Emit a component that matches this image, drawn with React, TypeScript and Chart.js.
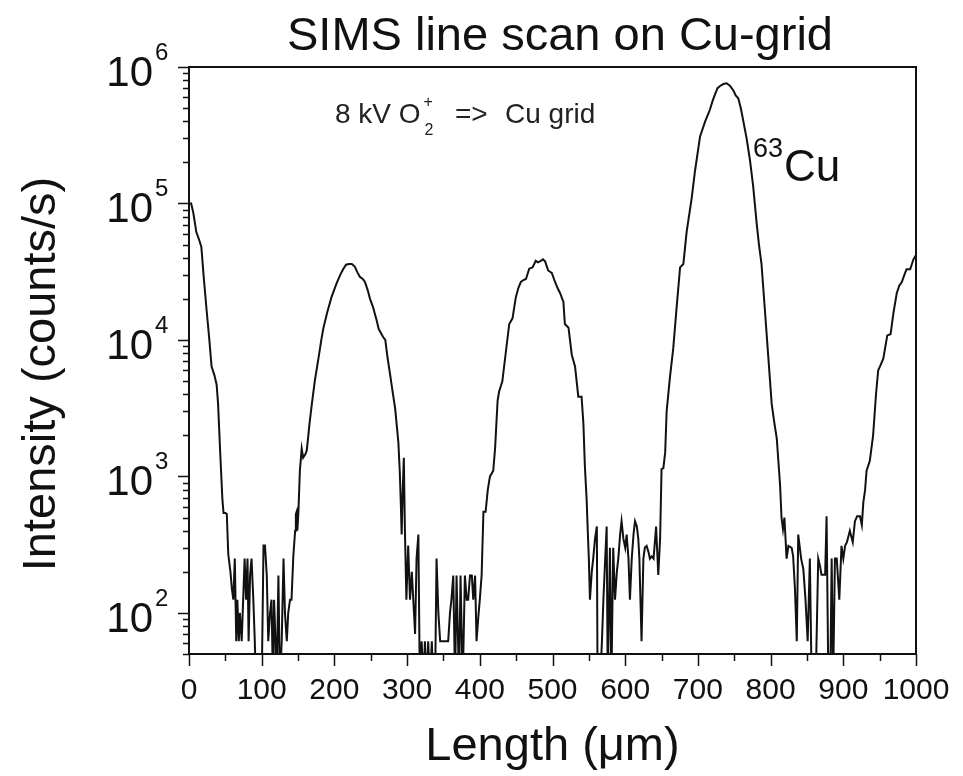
import React, { useEffect, useRef } from 'react';
import { Chart, registerables } from 'chart.js';

Chart.register(...registerables);

// ---- data; 30 = zero counts (below axis) ----
const lengthUm = [
  0, 3, 6, 10, 14, 17, 20, 24, 28, 31, 35, 38, 40, 43, 46, 47.5, 50, 52, 54, 57, 59,
  61, 63, 65, 66.5, 68.5, 70, 72.5, 74.5, 76.5, 78.5, 80.5, 82, 84, 86, 88.5, 90.5, 92, 96, 100,
  102.5, 104.5, 107, 109, 111.5, 113.5, 115.5, 117, 119, 120.5, 123, 125, 127.5, 130, 132, 134.5,
  136.5, 139, 141, 143.5, 146, 147, 148, 149, 150.5, 152.5, 155, 157, 160, 162, 166, 169, 173,
  178, 182, 185, 190, 196, 203, 208, 212, 216, 220, 224, 228, 232, 235, 239, 242, 246, 249, 253,
  258, 261, 263, 267, 270, 273, 276.5, 280, 283.5, 286, 288, 290, 291.5, 292.5, 294, 295.5, 297,
  299, 301.5, 304, 306.5, 308.5, 311, 313, 315.5, 317.5, 320, 322.5, 324.5, 327, 329, 331.5, 334,
  336, 338.5, 340.5, 343, 345.5, 348, 350, 354.5, 356.5, 359, 361, 363.5, 366, 368, 371.5, 373.5,
  376.5, 379.5, 382, 384, 386.5, 389, 391, 393.5, 395.5, 398, 400, 402.5, 405, 408, 411, 414,
  418.5, 421, 424.5, 426.5, 431, 436, 440.5, 445, 449.5, 453, 456.5, 460, 463.5, 468, 472.5, 477,
  480, 484, 487, 490, 494, 499, 503.5, 507, 510.5, 515, 517, 522, 526.5, 531, 535.5, 540, 542.5,
  544.5, 547, 548.5, 550, 551.5, 554, 556, 558.5, 561, 562, 565.5, 568, 570, 572.5, 574.5, 576,
  579, 581, 583.5, 586, 588.5, 590.5, 593, 595, 597.5, 600, 602, 604.5, 606.5, 609, 611.5, 613.5,
  616, 618, 619.5, 621, 622.5, 625, 627, 629.5, 632, 634, 636.5, 639, 642.5, 645.5, 648, 650,
  652.5, 655, 657, 661.5, 666, 671, 675.5, 680, 684.5, 691.5, 696, 703, 710, 716.5, 720, 723.5,
  727, 730.5, 735, 739.5, 744, 749, 752, 755.5, 759, 762.5, 767, 771.5, 776, 781, 784, 787.5, 792,
  797, 801.5, 805, 808.5, 813, 815, 817, 819, 822, 824.5, 829, 831, 833.5, 836, 838, 842, 845,
  848, 851, 854, 856.5, 859, 862, 865.5, 868, 870, 875, 877, 879.5, 882, 884, 886, 888.5, 891,
  894.5, 897.5, 900, 902.5, 905, 909, 913, 916, 919, 923, 925.5, 927.5, 930, 932, 936.5, 941, 945,
  948, 950.5, 955, 960.5, 965, 969, 973.5, 977, 980.5, 984, 987, 992, 996.5, 1000,
];

const cu63Intensity = [
  100000, 100000, 85000, 62000, 54000, 48000, 30000, 17000, 10000, 6400, 5500, 4700, 3400, 1460, 670, 540, 540, 530, 270, 200, 150,
  125, 250, 62, 125, 62, 100, 62, 125, 250, 125, 250, 62, 188, 250, 125, 62, 30, 30, 30,
  312, 312, 188, 62, 100, 125, 30, 125, 62, 30, 188, 30, 62, 250, 100, 62,
  100, 125, 125, 260, 400, 530, 550, 400, 550, 1100, 1600, 1370, 1450, 1550, 2500, 3400, 5000,
  7300, 10000, 12300, 15800, 20600, 26000, 30000, 33000, 35600, 36000, 36000, 34500, 31000, 29000, 28000, 26600, 23000, 20000, 17500,
  14000, 12000, 11500, 10500, 10000, 7500, 5650, 4200, 3170, 2300, 1770, 1060, 600, 375, 800, 1370, 400,
  125, 312, 125, 200, 125, 70, 250, 375, 30, 62, 30, 62, 30, 62, 30, 62,
  30, 30, 250, 100, 62, 62, 62, 62, 62, 100, 125, 188, 30, 188, 30, 188,
  30, 188, 125, 125, 188, 188, 125, 188, 62, 94, 125, 188, 550, 550, 800, 1000,
  1100, 1600, 3600, 4170, 4970, 8300, 13100, 14400, 20500, 24000, 26600, 27500, 28000, 33300, 34000, 38000,
  37000, 38000, 39000, 37500, 32300, 31000, 26600, 24000, 22000, 19000, 13100, 12300, 7800, 6400, 3840, 3840, 2440,
  1200, 670, 400, 250, 125, 200, 250, 350, 430, 30, 30, 62, 125, 250, 430, 30,
  300, 30, 300, 125, 200, 250, 375, 470, 350, 300, 375, 250, 125, 250, 380, 470,
  430, 350, 250, 125, 62, 250, 300, 310, 280, 250, 260, 250, 430, 190, 350, 1130,
  1150, 1500, 3000, 5300, 8600, 18000, 34000, 36000, 62000, 110000, 173000, 310000, 400000, 486000, 560000, 630000,
  700000, 726000, 750000, 760000, 730000, 670000, 620000, 590000, 500000, 400000, 300000, 210000, 134000, 70000, 50000, 36000, 17000,
  7300, 3400, 2500, 1890, 870, 500, 410, 500, 250, 310, 300, 260, 150, 62, 375, 250, 210,
  125, 62, 250, 30, 30, 30, 250, 220, 190, 190, 510, 30, 30, 250, 30, 250, 250,
  125, 310, 250, 310, 330, 400, 330, 470, 510, 510, 440, 640, 800, 1100, 1300, 2000, 4000,
  6000, 6400, 7300, 10800, 11000, 15800, 22000, 25000, 26600, 30000, 33000, 33000, 39000, 42000,
];

const xTickValues = [0, 100, 200, 300, 400, 500, 600, 700, 800, 900, 1000];
const xMinorTickValues = [50, 150, 250, 350, 450, 550, 650, 750, 850, 950];
const yDecadeExponents = [2, 3, 4, 5, 6];

const chartTitle = 'SIMS line scan on Cu-grid';
const xAxisTitle = 'Length (\u03bcm)';
const yAxisTitle = 'Intensity (counts/s)';

const FONT = "'Liberation Sans', Arial, Helvetica, sans-serif";
const INK = '#111';

const decorPlugin = {
  id: 'decor',
  afterDraw(chart: any) {
    const { ctx, chartArea: a, scales } = chart;
    const xs = scales.x;
    const ys = scales.y;
    ctx.save();

    // frame (top and right)
    ctx.strokeStyle = INK;
    ctx.lineWidth = 2;
    ctx.beginPath();
    ctx.moveTo(a.left, a.top);
    ctx.lineTo(a.right, a.top);
    ctx.lineTo(a.right, a.bottom);
    ctx.stroke();

    // y ticks (major at decades, minor 2..9)
    ctx.lineWidth = 1.5;
    ctx.beginPath();
    const yMin = ys.min;
    const yMax = ys.max;
    for (let e = 1; e <= 6; e++) {
      for (let m = 1; m <= 9; m++) {
        const v = m * Math.pow(10, e);
        if (v < yMin || v > yMax) continue;
        const py = Math.round(ys.getPixelForValue(v)) + 0.5;
        const len = m === 1 ? 11 : 6;
        ctx.moveTo(a.left - len, py);
        ctx.lineTo(a.left, py);
      }
    }
    ctx.stroke();

    // x ticks
    ctx.beginPath();
    for (const v of xTickValues) {
      const px = Math.round(xs.getPixelForValue(v)) + 0.5;
      ctx.moveTo(px, a.bottom);
      ctx.lineTo(px, a.bottom + 12);
    }
    for (const v of xMinorTickValues) {
      const px = Math.round(xs.getPixelForValue(v)) + 0.5;
      ctx.moveTo(px, a.bottom);
      ctx.lineTo(px, a.bottom + 7);
    }
    ctx.stroke();

    // y tick labels 10^n
    ctx.fillStyle = INK;
    ctx.textBaseline = 'alphabetic';
    for (const e of yDecadeExponents) {
      const py = ys.getPixelForValue(Math.pow(10, e));
      ctx.font = `42px ${FONT}`;
      ctx.textAlign = 'right';
      ctx.fillText('10', a.left - 36, py + 19);
      ctx.font = `24px ${FONT}`;
      ctx.textAlign = 'left';
      ctx.fillText(String(e), a.left - 34, py - 7);
    }

    // title
    ctx.textAlign = 'center';
    ctx.font = `47px ${FONT}`;
    ctx.fillText(chartTitle, 560, 50);

    // x axis title
    ctx.font = `47px ${FONT}`;
    ctx.fillText(xAxisTitle, (a.left + a.right) / 2, 760);

    // y axis title
    ctx.save();
    ctx.translate(42, 374);
    ctx.rotate(-Math.PI / 2);
    ctx.textBaseline = 'middle';
    ctx.font = `47px ${FONT}`;
    ctx.fillText(yAxisTitle, 0, 0);
    ctx.restore();

    // annotation: 8 kV O2+ => Cu grid
    ctx.fillStyle = '#222';
    ctx.textAlign = 'left';
    ctx.font = `28px ${FONT}`;
    const lead = '8 kV O';
    ctx.fillText(lead, 335, 123);
    const leadEnd = 335 + ctx.measureText(lead).width;
    ctx.font = `16px ${FONT}`;
    ctx.fillText('2', leadEnd + 4, 135);
    ctx.fillText('+', leadEnd + 3, 107);
    ctx.font = `28px ${FONT}`;
    ctx.fillText('=>', 455, 123);
    ctx.fillText('Cu grid', 505, 123);

    // isotope label 63Cu
    ctx.fillStyle = INK;
    ctx.font = `27px ${FONT}`;
    ctx.fillText('63', 753, 157);
    ctx.font = `44px ${FONT}`;
    ctx.fillText('Cu', 784, 181);

    ctx.restore();
  },
};

export default function App() {
  const canvasRef = useRef<HTMLCanvasElement | null>(null);

  useEffect(() => {
    const canvas = canvasRef.current;
    if (!canvas) return;
    const points = lengthUm.map((x, i) => ({ x, y: cu63Intensity[i] }));
    const chart = new Chart(canvas, {
      type: 'line',
      data: {
        datasets: [
          {
            label: '63Cu',
            data: points,
            borderColor: '#111',
            borderWidth: 2,
            pointRadius: 0,
            tension: 0,
            fill: false,
          },
        ],
      },
      options: {
        animation: false,
        responsive: false,
        devicePixelRatio: 1,
        events: [],
        layout: { padding: { top: 67, right: 47, bottom: 0, left: 0 } },
        plugins: {
          legend: { display: false },
          title: { display: false },
          tooltip: { enabled: false },
        },
        scales: {
          x: {
            type: 'linear',
            position: 'bottom',
            min: 0,
            max: 1000,
            afterBuildTicks: (scale: any) => {
              scale.ticks = xTickValues.map((v) => ({ value: v }));
            },
            afterFit: (scale: any) => {
              scale.height = 122;
            },
            ticks: {
              autoSkip: false,
              maxRotation: 0,
              minRotation: 0,
              padding: 11,
              color: INK,
              font: { family: FONT, size: 30 },
              callback: (v: any) => String(v),
            },
            grid: { display: false },
            border: { display: true, color: INK, width: 2 },
          },
          y: {
            type: 'logarithmic',
            position: 'left',
            min: 50,
            max: 1000000,
            afterFit: (scale: any) => {
              scale.width = 189;
            },
            ticks: { display: false },
            grid: { display: false },
            border: { display: true, color: INK, width: 2 },
          },
        },
      },
      plugins: [decorPlugin],
    } as any);
    return () => chart.destroy();
  }, []);

  return (
    <div style={{ position: 'fixed', left: 0, top: 0, width: 963, height: 776, background: '#fff' }}>
      <canvas ref={canvasRef} width={963} height={776} style={{ width: 963, height: 776, display: 'block' }} />
    </div>
  );
}
